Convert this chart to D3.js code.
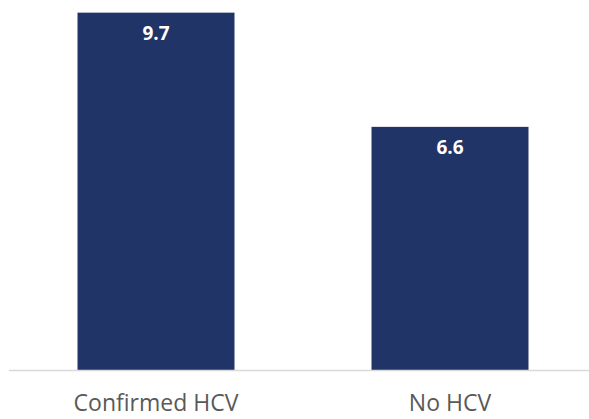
<!DOCTYPE html>
<html>
<head>
<meta charset="utf-8">
<script src="https://cdn.jsdelivr.net/npm/d3@7"></script>
<style>
  html, body { margin: 0; padding: 0; background: #fff; }
  svg { display: block; }
</style>
</head>
<body>
<script>
// Chart data
const categories = ["Confirmed HCV", "No HCV"];
const values = [9.7, 6.6];

const W = 589, H = 419;
const baseY = 370;

const svg = d3.select("body").append("svg")
  .attr("width", W).attr("height", H);

const x = d3.scaleBand()
  .domain(categories)
  .range([9, 597])
  .paddingInner(0.466)
  .paddingOuter(0.233);

const y = d3.scaleLinear()
  .domain([0, 10])
  .range([baseY, 1.6]);

// Bars
svg.selectAll("rect.bar")
  .data(categories)
  .join("rect")
  .attr("class", "bar")
  .attr("x", d => x(d))
  .attr("width", x.bandwidth())
  .attr("y", (d, i) => y(values[i]))
  .attr("height", (d, i) => baseY - y(values[i]))
  .attr("fill", "#203468");

// Value labels inside the top of each bar
svg.selectAll("text.val")
  .data(categories)
  .join("text")
  .attr("class", "val")
  .attr("x", d => x(d) + x.bandwidth() / 2)
  .attr("y", (d, i) => y(values[i]) + 27)
  .attr("text-anchor", "middle")
  .attr("font-family", "'Open Sans', 'Liberation Sans', sans-serif")
  .attr("font-weight", "bold")
  .attr("font-size", "19px")
  .attr("fill", "#ffffff")
  .text((d, i) => values[i].toFixed(1));

// Baseline
svg.append("line")
  .attr("x1", 9).attr("x2", 589)
  .attr("y1", baseY + 0.5).attr("y2", baseY + 0.5)
  .attr("stroke", "#d9d9d9")
  .attr("stroke-width", 1.5);

// Category axis labels
const xAxis = d3.axisBottom(x).tickSize(0).tickPadding(0);
const gx = svg.append("g")
  .attr("transform", `translate(0,${baseY})`)
  .call(xAxis);
gx.select(".domain").remove();
gx.selectAll("text")
  .attr("dy", null)
  .attr("y", 41)
  .attr("font-family", "'Open Sans', 'Liberation Sans', sans-serif")
  .attr("font-size", "23px")
  .attr("fill", "#595959");
</script>
</body>
</html>
